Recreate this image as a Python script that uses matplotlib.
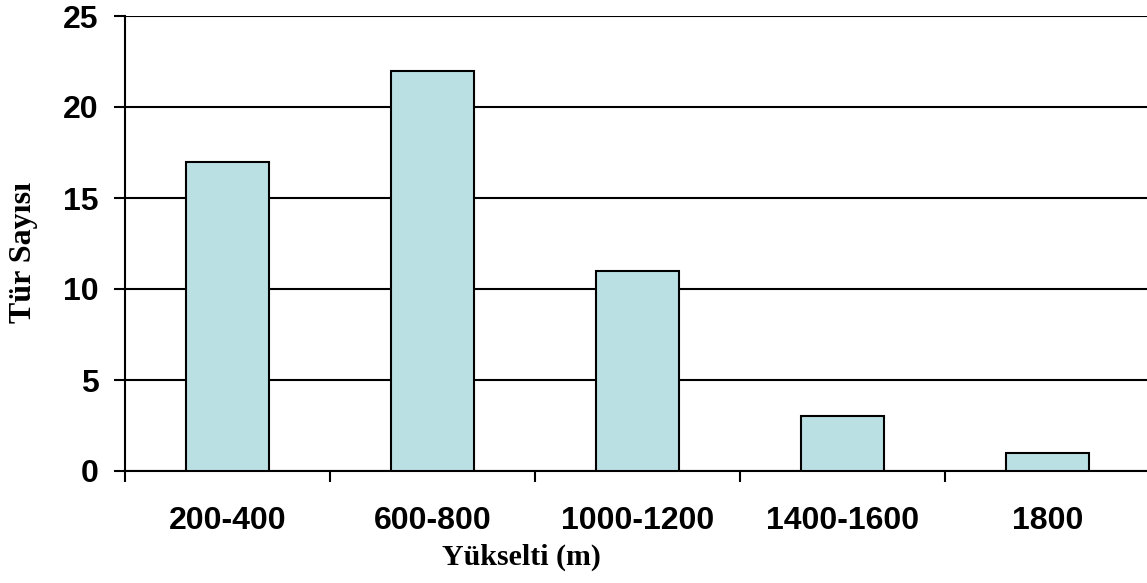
import numpy as np
import matplotlib
matplotlib.use("Agg")
import matplotlib.pyplot as plt

# elevation bands and species counts
categories = ["200-400", "600-800", "1000-1200", "1400-1600", "1800"]
counts = [17, 22, 11, 3, 1]
yticks = [0, 5, 10, 15, 20, 25]

fig = plt.figure(figsize=(11.47, 5.83), dpi=100)
# axes: left spine at x=125px, bottom at y=471px, top at y=16px
ax = fig.add_axes([125 / 1147, (583 - 471) / 583, 1025 / 1147, 455 / 583])

idx = np.arange(len(categories))
ax.bar(idx, counts, width=0.405, color="#BBE0E3", edgecolor="black",
       linewidth=1.5, zorder=3)

ax.set_xlim(-0.5, len(categories) - 0.5)
ax.set_ylim(0, 25)
ax.set_yticks(yticks)
ax.yaxis.grid(True, color="black", linewidth=1.5, zorder=0)
ax.set_axisbelow(True)

# category labels between boundary ticks
ax.set_xticks(idx)
ax.set_xticklabels(categories, fontfamily="Liberation Sans", fontweight="bold",
                   fontsize=23)
ax.tick_params(axis="x", length=0, pad=25)
ax.set_xticks(np.arange(len(categories) + 1) - 0.5, minor=True)
ax.tick_params(axis="x", which="minor", length=8, width=1.5, direction="out")
ax.tick_params(axis="y", length=8, width=1.5, pad=11)
for lab in ax.get_yticklabels():
    lab.set_fontfamily("Liberation Sans")
    lab.set_fontweight("bold")
    lab.set_fontsize(23)

for s in ["top", "right"]:
    ax.spines[s].set_visible(False)
for s in ["left", "bottom"]:
    ax.spines[s].set_linewidth(1.5)

fig.text(521 / 1147, 1 - 557 / 583, "Yükselti (m)", ha="center", va="center",
         fontfamily="Liberation Serif", fontweight="bold", fontsize=21.5)
fig.text(24 / 1147, 1 - 252 / 583, "Tür Sayısı", ha="center", va="center",
         rotation=90, fontfamily="Liberation Serif", fontweight="bold",
         fontsize=23)

fig.savefig("out.png", dpi=100)
